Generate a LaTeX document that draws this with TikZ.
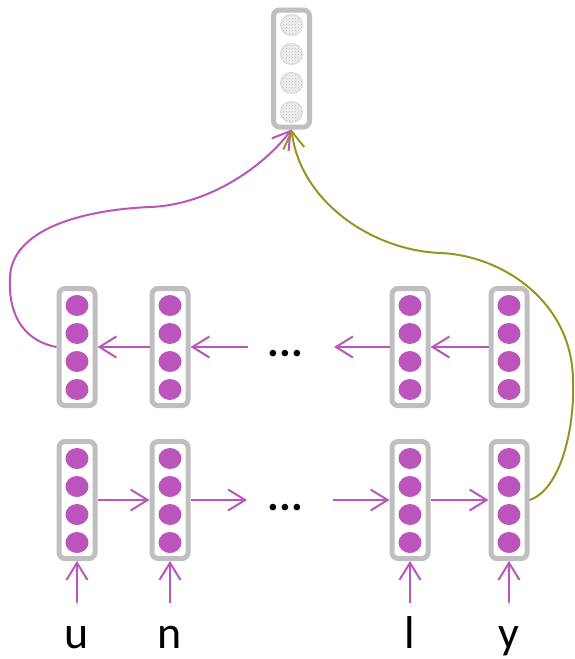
\documentclass[tikz,border=0pt]{standalone}
\usepackage{fontspec}
\setmainfont{Carlito}
\usetikzlibrary{arrows.meta,patterns,shapes.geometric}
\definecolor{mag}{RGB}{187,85,187}
\definecolor{oliv}{RGB}{152,148,32}
\definecolor{boxgray}{RGB}{191,191,191}
\tikzset{
  x=1pt, y=-1pt,
  vbox/.style={draw=boxgray, line width=5pt, rounded corners=6pt, minimum width=36pt, minimum height=117pt, inner sep=0pt, fill=white},
  unit/.style={ellipse, fill=mag, minimum width=23pt, minimum height=21pt, inner sep=0pt},
  outunit/.style={ellipse, draw=gray!30, line width=1pt, preaction={fill=gray!12}, pattern=crosshatch dots, pattern color=gray!55, minimum width=22pt, minimum height=21pt, inner sep=0pt},
  arr/.style={draw=mag, line width=2pt, -{Straight Barb[length=17pt,width=21pt]}},
  oarr/.style={draw=oliv, line width=2pt, -{Straight Barb[length=17pt,width=21pt]}},
  letter/.style={font=\fontsize{46}{50}\selectfont, anchor=base, inner sep=0pt},
  dots/.style={font=\fontsize{44}{48}\selectfont\bfseries, anchor=base, inner sep=0pt}
}
\begin{document}
\begin{tikzpicture}
\useasboundingbox (0,0) rectangle (574,659);
% top output box
\node[vbox] (top) at (291.5,68.5) {};
\foreach \k/\dy in {1/-43.5,2/-14.5,3/14.5,4/43.5}
  \node[outunit] (t\k) at (291.5,68.5+\dy) {};
% rows of boxes
\foreach \n/\x in {1/77,2/170,3/410,4/509}{
  \node[vbox] (h\n) at (\x,347) {};
  \foreach \k/\dy in {1/-41.5,2/-13.5,3/14.5,4/42.5}
    \node[unit] (h\n u\k) at (\x,347+\dy) {};
  \node[vbox] (e\n) at (\x,500) {};
  \foreach \k/\dy in {1/-41.5,2/-13.5,3/14.5,4/42.5}
    \node[unit] (e\n u\k) at (\x,500+\dy) {};
  \coordinate (in\n) at (\x,603);
  \draw[arr] (in\n) -- (e\n.south);
}
% letters
\node[letter] (lu) at (77,648) {u};
\node[letter] (ln) at (170,648) {n};
\node[letter] (ll) at (410,648) {l};
\node[letter] (ly) at (509,648) {y};
% ellipses
\node[dots] (du) at (285.5,356) {...};
\node[dots] (dl) at (285.5,510) {...};
\coordinate (ua) at (248,347);
\coordinate (ub) at (334,347);
\coordinate (la) at (247,500);
\coordinate (lb) at (333,500);
% upper row arrows (leftward)
\draw[arr] (h2.west) -- (h1.east);
\draw[arr] (ua) -- (h2.east);
\draw[arr] (h3.west) -- (ub);
\draw[arr] (h4.west) -- (h3.east);
% lower row arrows (rightward)
\draw[arr] (e1.east) -- (e2.west);
\draw[arr] (e2.east) -- (la);
\draw[arr] (lb) -- (e3.west);
\draw[arr] (e3.east) -- (e4.west);
% curves to output
\draw[arr] (h1.west) .. controls (20,340) and (8,310) .. (10,277)
  .. controls (12,230) and (80,210) .. (150,207)
  .. controls (210,205) and (265,165) .. (top.south);
\draw[oarr] (e4.east) .. controls (560,490) and (575,430) .. (573,380)
  .. controls (572,300) and (500,255) .. (440,253)
  .. controls (370,250) and (300,200) .. (top.south);
\end{tikzpicture}
\end{document}
